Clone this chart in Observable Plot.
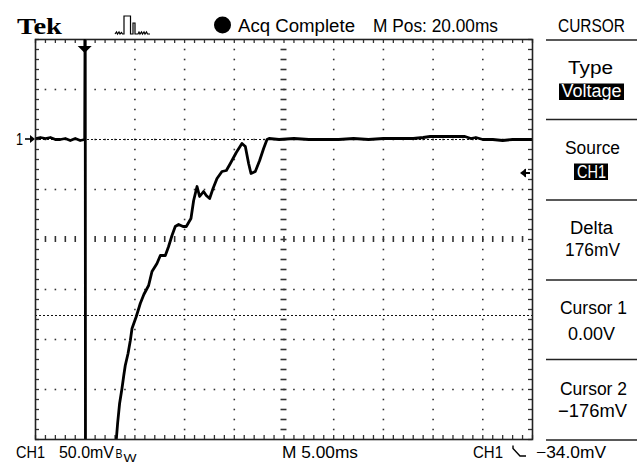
<!DOCTYPE html>
<html><head><meta charset="utf-8">
<script src="https://cdn.jsdelivr.net/npm/d3@7"></script>
<script src="https://cdn.jsdelivr.net/npm/@observablehq/plot@0.6"></script>
<style>body{margin:0;background:#fff} svg{display:block}</style>
</head><body><div id="chart"></div>
<script>
const timeMs = [0,0.5,1,1.5,2,2.5,3,3.5,4,4.5,4.95,5.0,5.03,8.0,8.13,8.26,8.46,8.70,8.88,9.03,9.31,9.54,9.71,10.14,10.54,10.9,11.38,11.72,12.22,12.56,13.06,13.39,13.73,14.06,14.40,14.84,15.17,15.64,15.91,16.08,16.25,16.51,16.91,17.18,17.52,17.86,18.26,18.76,19.20,19.60,20.20,20.77,21.11,21.44,21.68,22.11,22.55,22.95,23.29,23.5,24.5,26,27.5,29,30.5,32,33.5,35,36,37,38,39,39.7,41,42.5,43.2,43.8,44.3,45,46,47,48,49,50];
const voltMv = [1,2,1,2,0,0,1,-1,1,-1,0,160,-360,-360,-300,-284,-264,-249,-236,-226,-214,-201,-189,-177,-164,-155,-146,-132,-124,-116,-116,-107,-96,-87,-85,-87,-87,-79,-61,-54,-47,-57,-52,-56,-59,-49,-39,-32,-31,-24,-13,-4,-7,-24,-34,-32,-21,-9,0,1,0,1,0,0,0,1,0,1,1,1,1,2,3,3,3,3,1,2,0,0,-1,0,0,0];
const timeDomain = [0, 50];      // 10 div x 5.00 ms
const voltDomain = [-300, 100];  // 8 div x 50.0 mV
const cursorLevels = [0, -176];  // Cursor 1, Cursor 2 (mV)
const triggerLevel = -34;        // mV
const triggerTime = 5;           // ms
const headerLabels = ["Tek", "Acq Complete", "M Pos: 20.00ms", "CURSOR"];
const menuLabels = ["Type", "Voltage", "Source", "CH1", "Delta", "176mV", "Cursor 1", "0.00V", "Cursor 2", "\u2212176mV"];
const footerLabels = ["CH1", "50.0mV", "B", "W", "M 5.00ms", "CH1", "\u221234.0mV"];

const trace = timeMs.map((t, i) => ({t, v: voltMv[i]}));
const majorX = d3.range(0, 51, 5), minorX = d3.range(0, 51, 1);
const majorY = d3.range(-300, 101, 50), minorY = d3.range(-300, 101, 10);
const innerMajX = majorX.filter(d => d > 0 && d < 50 && d !== 25);
const innerMajY = majorY.filter(d => d > -300 && d < 100 && d !== -100);
const innerMinX = minorX.filter(d => d > 0 && d < 50);
const innerMinY = minorY.filter(d => d > -300 && d < 100);
const gridDots = [];
innerMajX.forEach(x => innerMinY.forEach(y => gridDots.push({x, y})));
innerMajY.forEach(y => innerMinX.forEach(x => gridDots.push({x, y})));

const plot = Plot.plot({
  width: 637, height: 465,
  marginLeft: 35, marginRight: 105, marginTop: 39, marginBottom: 26,
  x: {domain: timeDomain, axis: null},
  y: {domain: voltDomain, axis: null},
  style: {fontFamily: "Liberation Sans", background: "white"},
  marks: [
    Plot.dot(gridDots, {x: "x", y: "y", symbol: "square", r: 0.9, fill: "#333", stroke: "none"}),
    Plot.ruleY(innerMinY, {y: d => d, x1: 24.7, x2: 25.3, stroke: "#333", strokeWidth: 1.6}),
    Plot.ruleX(innerMinX, {x: d => d, y1: -103, y2: -97, stroke: "#333", strokeWidth: 1.6}),
    Plot.ruleX(minorX, {x: d => d, y1: 100, y2: 96, stroke: "#333", strokeWidth: 1.3}),
    Plot.ruleX(minorX, {x: d => d, y1: -300, y2: -296, stroke: "#333", strokeWidth: 1.3}),
    Plot.ruleY(minorY, {y: d => d, x1: 0, x2: 0.4, stroke: "#333", strokeWidth: 1.3}),
    Plot.ruleY(minorY, {y: d => d, x1: 49.6, x2: 50, stroke: "#333", strokeWidth: 1.3}),
    Plot.ruleY(cursorLevels, {y: d => d, stroke: "#111", strokeWidth: 1.2, strokeDasharray: "2,2"}),
    Plot.line(trace, {x: "t", y: "v", stroke: "black", strokeWidth: 2.8, clip: true, strokeLinejoin: "round"}),
    Plot.frame({stroke: "#222", strokeWidth: 1.6})
  ]
});
document.getElementById("chart").appendChild(plot);

(function annotate() {
  const svg = d3.select(plot);
  const xs = v => plot.scale("x").apply(v);
  const ys = v => plot.scale("y").apply(v);
  const FONT = "Liberation Sans";
  function txt(s, x, y, size, len, opts = {}) {
    const t = svg.append("text").attr("x", x).attr("y", y)
      .attr("text-anchor", "start")
      .attr("font-family", opts.family || FONT).attr("font-size", size)
      .attr("font-weight", opts.weight || "normal")
      .attr("fill", opts.fill || "black").text(s);
    if (len) t.attr("textLength", len).attr("lengthAdjust", "spacingAndGlyphs");
    return t;
  }
  // trigger position marker
  const tx = xs(triggerTime), topY = ys(voltDomain[1]);
  svg.append("path").attr("d", `M${tx-7},${topY+7} L${tx+7},${topY+7} L${tx},${topY+14} Z`).attr("fill", "black");
  svg.append("line").attr("x1", tx).attr("x2", tx).attr("y1", topY).attr("y2", topY + 8).attr("stroke", "black").attr("stroke-width", 2);
  // ground marker "1 ->"
  const gy = ys(0), leftX = xs(timeDomain[0]);
  txt("1", leftX - 19, gy + 6, 16, 7);
  svg.append("line").attr("x1", leftX - 10).attr("x2", leftX - 2).attr("y1", gy).attr("y2", gy).attr("stroke", "black").attr("stroke-width", 1.6);
  svg.append("path").attr("d", `M${leftX},${gy} L${leftX-5},${gy-4} L${leftX-5},${gy+4} Z`).attr("fill", "black");
  // trigger level arrow
  const ty = ys(triggerLevel), rightX = xs(timeDomain[1]);
  svg.append("path").attr("d", `M${rightX-12},${ty} L${rightX-6},${ty-4.5} L${rightX-6},${ty+4.5} Z`).attr("fill", "black");
  svg.append("line").attr("x1", rightX - 7).attr("x2", rightX - 2).attr("y1", ty).attr("y2", ty).attr("stroke", "black").attr("stroke-width", 2);
  svg.append("line").attr("x1", rightX - 7).attr("x2", rightX - 7).attr("y1", ty - 4).attr("y2", ty + 4).attr("stroke", "black").attr("stroke-width", 1);

  // header
  txt(headerLabels[0], 17, 34, 24, 45, {family: "Liberation Serif", weight: "bold"});
  svg.append("path").attr("d", "M115,34 l1.5,-2 l1,2 l1.5,-2 l1,2 l1.5,-1.5 l1,1.5 L124,34 L124,16 L130.5,16 L130.5,34 L133,34 L133,23 L135,23 L135,34 L138,34 l1,-2 l1,2 l1.5,-2 l1,2 l1.5,-2 l1,2 l1.5,-2 l1,2 L150,34")
    .attr("fill", "none").attr("stroke", "black").attr("stroke-width", 1.2);
  svg.append("circle").attr("cx", 222.5).attr("cy", 25).attr("r", 8.5).attr("fill", "black");
  txt(headerLabels[1], 238, 31.5, 17.5, 117);
  txt(headerLabels[2], 373, 31.5, 17.5, 125);
  txt(headerLabels[3], 558, 31.5, 17.5, 67);

  // right menu
  const sepY = [40, 119.5, 200, 280, 359.5, 440];
  sepY.forEach(y => svg.append("line").attr("x1", 546).attr("x2", 637).attr("y1", y).attr("y2", y).attr("stroke", "#222").attr("stroke-width", 1.5));
  svg.append("rect").attr("x", 559).attr("y", 83.5).attr("width", 65).attr("height", 16.5).attr("fill", "black");
  svg.append("rect").attr("x", 574).attr("y", 163.5).attr("width", 34).attr("height", 16.5).attr("fill", "black");
  txt(menuLabels[0], 568, 74, 18, 45);
  txt(menuLabels[1], 561.5, 97, 18, 60, {fill: "white"});
  txt(menuLabels[2], 565, 154, 18, 55);
  txt(menuLabels[3], 577, 178, 18, 29, {fill: "white"});
  txt(menuLabels[4], 570, 234, 18, 43);
  txt(menuLabels[5], 565, 256, 18, 55);
  txt(menuLabels[6], 560, 314, 18, 67);
  txt(menuLabels[7], 568, 340, 18, 47);
  txt(menuLabels[8], 560, 395, 18, 67);
  txt(menuLabels[9], 558, 417, 18, 69);

  // footer
  txt(footerLabels[0], 16, 457.5, 16.5, 29);
  txt(footerLabels[1], 59, 457.5, 16.5, 55);
  txt(footerLabels[2], 115.5, 457.5, 13, 7);
  txt(footerLabels[3], 123.5, 462, 10, 13);
  txt(footerLabels[4], 282, 457.5, 16.5, 76);
  txt(footerLabels[5], 473, 457.5, 16.5, 30);
  svg.append("path").attr("d", "M513,445.5 L513,448.5 L520,456 L526,456").attr("fill", "none").attr("stroke", "black").attr("stroke-width", 1.4);
  txt(footerLabels[6], 536, 457.5, 16.5, 70);
})();
</script></body></html>
